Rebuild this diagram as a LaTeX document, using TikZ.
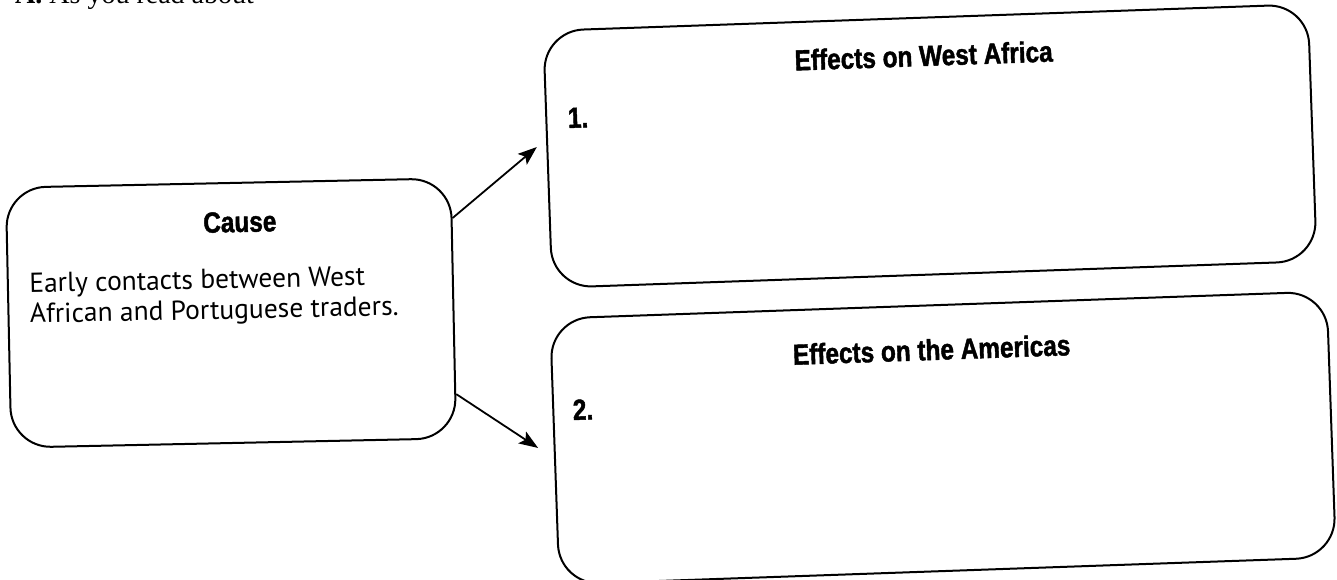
\documentclass[tikz,border=0pt]{standalone}
\usepackage{fontspec}
\usetikzlibrary{arrows.meta,positioning}
\newfontfamily\headfont[FakeStretch=0.84,BoldFeatures={FakeBold=1.5}]{Liberation Sans}
\newfontfamily\bodyfont{PT Sans}
\newfontfamily\taskfont{Liberation Serif}
\begin{document}
\begin{tikzpicture}[x=1pt,y=-1pt,
  box/.style={draw,line width=2pt,rounded corners=40pt,inner sep=0pt},
  head/.style={font=\headfont\bfseries\fontsize{29}{32}\selectfont,inner sep=0pt},
  body/.style={font=\bodyfont\fontsize{27.5}{30.5}\selectfont,inner sep=0pt,align=left},
  link/.style={line width=1.8pt,-{Stealth[length=19pt,width=14pt,inset=4pt]}}]
\useasboundingbox (0,0) rectangle (1337,580);
\node[anchor=base west,inner sep=0pt,font=\taskfont\fontsize{28}{30}\selectfont] (task) at (15,4) {\textbf{A.} As you read about};
% cause box
\node[box,minimum width=445pt,minimum height=260pt,rotate=1.2] (cause) at (231,313) {};
\node[head,anchor=base,rotate=1.2] (causehead) at (240,232) {Cause};
\node[body,anchor=base west,rotate=1.2] (causetext) at (30,323) {Early contacts between West\\African and Portuguese traders.};
% effect boxes
\node[box,minimum width=765pt,minimum height=257pt,rotate=2] (wa) at (930,146) {};
\node[head,anchor=base,rotate=2] (wahead) at (924,66) {Effects on West Africa};
\node[head,anchor=base west,rotate=2] (waone) at (568,128) {1.};
\node[box,minimum width=777pt,minimum height=266pt,rotate=2] (am) at (943,438) {};
\node[head,anchor=base,rotate=2] (amhead) at (932,360) {Effects on the Americas};
\node[head,anchor=base west,rotate=2] (amtwo) at (573,420) {2.};
% arrows
\draw[link,shorten >=12pt] (cause.22) -- (wa.177.5);
\draw[link,shorten >=19pt] (cause.339) -- (am.181.7);
\end{tikzpicture}
\end{document}
